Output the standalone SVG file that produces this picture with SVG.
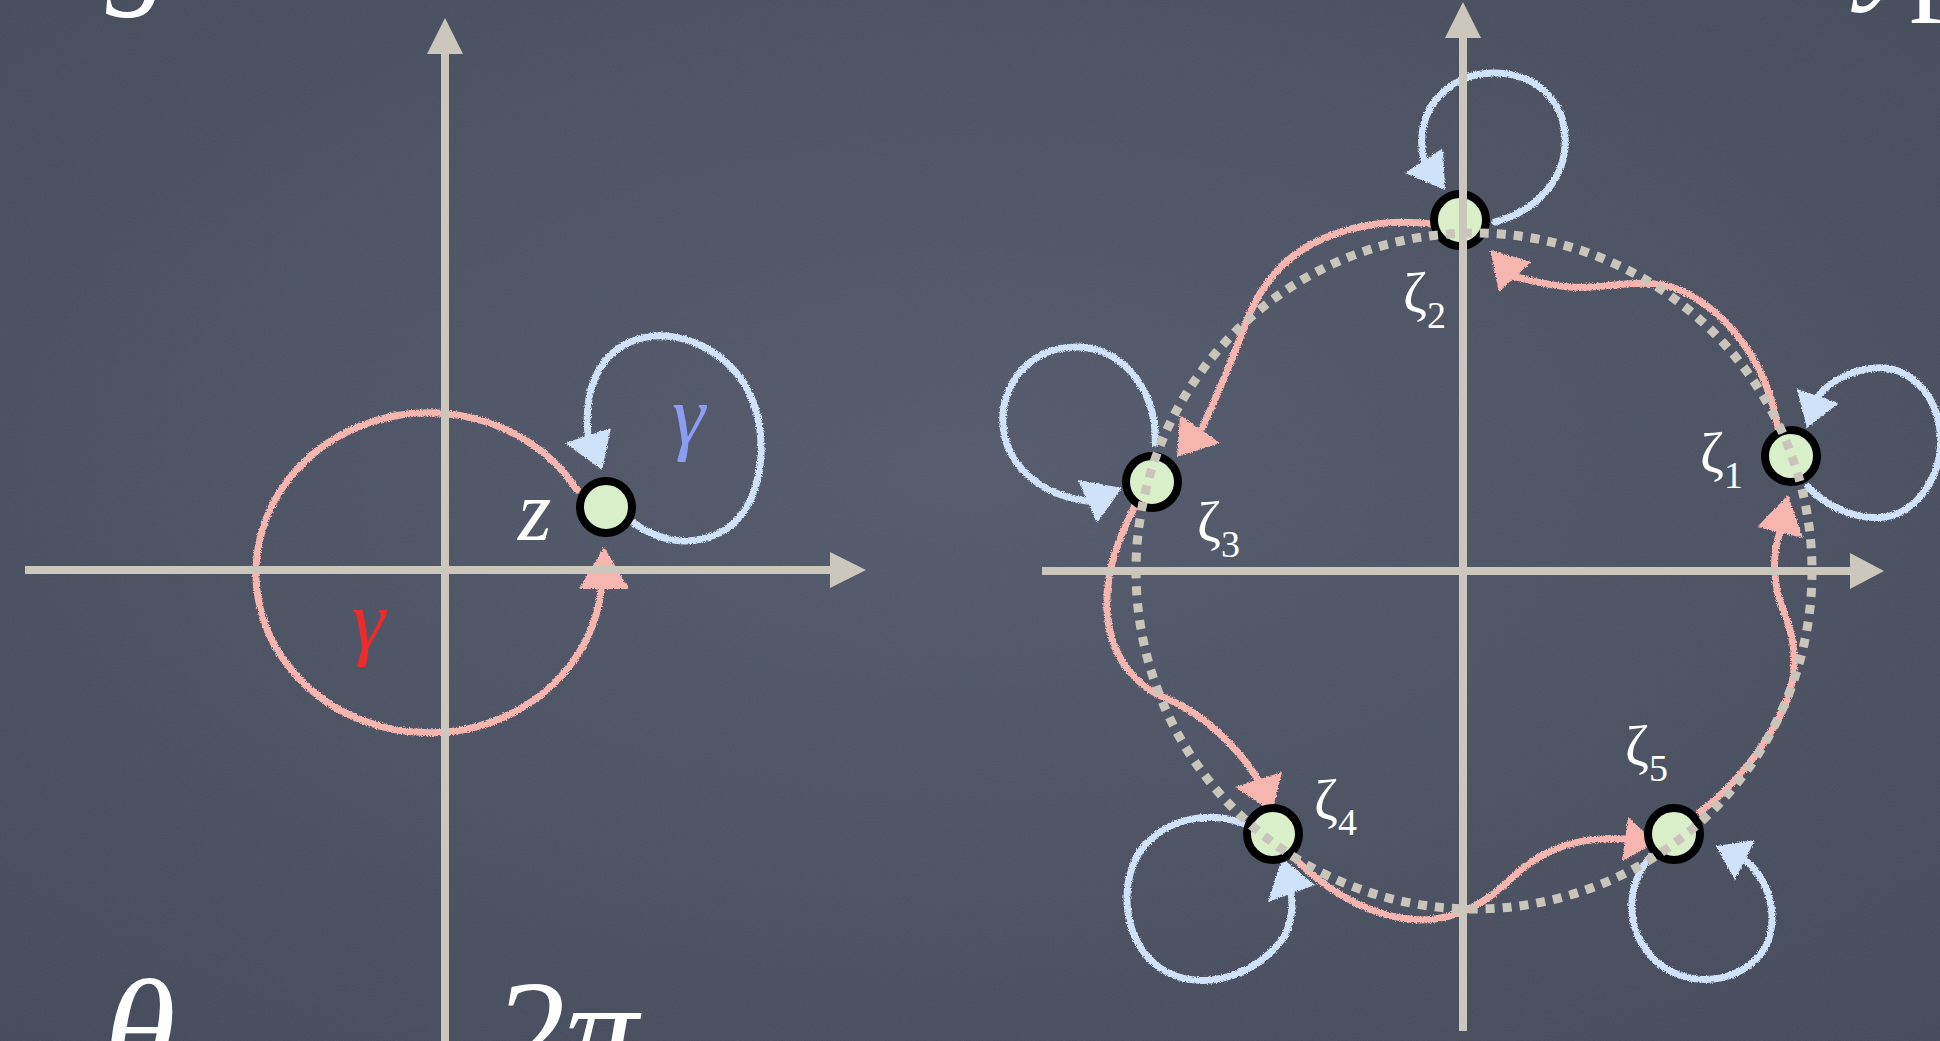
<svg xmlns="http://www.w3.org/2000/svg" width="1940" height="1041" viewBox="0 0 1940 1041">
<defs>
  <style>
    .math{font-family:"Liberation Serif","DejaVu Serif",serif;font-style:italic;fill:#ffffff}
    .lbl{font-family:"Liberation Serif","DejaVu Serif",serif;fill:#ffffff;font-size:58px}
    .sub{font-size:38px}
    .axis{stroke:#cbc7bd;stroke-width:8;fill:none}
    .axhead{fill:#cbc7bd}
    .red{stroke:#f7b5b0;stroke-width:7;fill:none;stroke-linecap:round}
    .blue{stroke:#cfe2fa;stroke-width:7;fill:none;stroke-linecap:round}
    .redhead{fill:#f7b5b0}
    .bluehead{fill:#cfe2fa}
    .dots{stroke:#c9c5bb;stroke-width:9;fill:none;stroke-dasharray:9 8}
    .node{fill:#d9efca;stroke:#000000;stroke-width:8}
  </style>
  <radialGradient id="bg" cx="50%" cy="45%" r="75%">
    <stop offset="0" stop-color="#535a6c"/>
    <stop offset="1" stop-color="#434959"/>
  </radialGradient>
  <filter id="grain" x="0" y="0" width="100%" height="100%">
    <feTurbulence type="fractalNoise" baseFrequency="0.75" numOctaves="3" seed="5"/>
    <feColorMatrix type="saturate" values="0"/>
  </filter>
  <filter id="chalk" x="-5%" y="-5%" width="110%" height="110%">
    <feTurbulence type="fractalNoise" baseFrequency="0.8" numOctaves="2" seed="3" result="n"/>
    <feDisplacementMap in="SourceGraphic" in2="n" scale="4" xChannelSelector="R" yChannelSelector="G"/>
  </filter>
</defs>

<rect width="1940" height="1041" fill="url(#bg)"/>
<rect width="1940" height="1041" filter="url(#grain)" opacity="0.07"/>

<!-- cut-off text fragments -->
<g id="fragments">
  <text class="math" x="106" y="-10" font-size="130">g</text>
  <text class="math" x="1862" y="-15" font-size="130">y<tspan dx="-10" dy="10" font-style="normal">p</tspan></text>
  <text class="math" x="104" y="1081" font-size="146">θ</text>
  <text class="math" x="492" y="1081" font-size="146">2π</text>
</g>

<!-- connectors: chalk curves and arrowheads -->
<g id="connectors" filter="url(#chalk)">
  <!-- left plot -->
  <path class="red" d="M 577 490 A 173 160 0 1 0 601 590"/>
  <polygon class="redhead" points="604,547 579,589 629,589"/>
  <path class="blue" d="M 631 521 C 655 540 690 550 725 530 C 765 505 772 430 745 385 C 720 345 670 325 630 342 C 595 358 584 395 588 435"/>
  <polygon class="bluehead" points="602,470 565,443 611,428"/>

  <!-- right plot: red path around the roots -->
  <path class="red" d="M 1778 428 C 1768 370 1735 320 1690 295 C 1650 272 1610 290 1570 287 C 1545 285 1530 280 1515 277"/>
  <polygon class="redhead" points="1490,250 1531,262 1499,292"/>
  <path class="red" d="M 1432 224 C 1400 220 1360 222 1320 240 C 1280 258 1258 290 1245 325 C 1232 360 1220 390 1202 428"/>
  <polygon class="redhead" points="1177,457 1180,415 1220,443"/>
  <path class="red" d="M 1135 506 C 1120 535 1105 570 1107 610 C 1109 650 1130 685 1170 700 C 1205 715 1240 750 1258 780"/>
  <polygon class="redhead" points="1272,812 1235,787 1282,772"/>
  <path class="red" d="M 1298 862 C 1330 892 1370 918 1420 920 C 1460 920 1490 900 1515 875 C 1545 848 1580 836 1625 839"/>
  <polygon class="redhead" points="1656,843 1622,861 1628,817"/>
  <path class="red" d="M 1700 812 C 1730 790 1765 750 1785 705 C 1800 670 1795 640 1785 615 C 1772 585 1772 555 1780 532"/>
  <polygon class="redhead" points="1788,495 1757,527 1803,538"/>

  <!-- right plot: blue self loops -->
  <path class="blue" d="M 1495 222 C 1540 210 1568 175 1565 135 C 1562 95 1530 72 1492 73 C 1455 74 1425 100 1422 135 C 1421 145 1422 152 1424 160"/>
  <polygon class="bluehead" points="1445,190 1405,173 1443,148"/>
  <path class="blue" d="M 1808 487 C 1830 510 1860 520 1885 517 C 1920 512 1945 470 1940 430 C 1935 390 1905 365 1875 368 C 1850 370 1830 382 1818 396"/>
  <polygon class="bluehead" points="1807,428 1797,389 1839,403"/>
  <path class="blue" d="M 1155 443 C 1158 400 1130 350 1080 347 C 1030 345 1000 385 1003 425 C 1006 465 1040 495 1087 501"/>
  <polygon class="bluehead" points="1122,488 1078,480 1097,523"/>
  <path class="blue" d="M 1245 824 C 1210 810 1170 818 1145 845 C 1118 875 1120 940 1160 968 C 1200 995 1260 975 1285 935 C 1292 920 1293 905 1291 893"/>
  <polygon class="bluehead" points="1282,858 1268,902 1315,885"/>
  <path class="blue" d="M 1659 850 C 1630 870 1620 920 1650 955 C 1675 985 1730 990 1760 955 C 1780 930 1775 885 1745 860"/>
  <polygon class="bluehead" points="1716,846 1755,840 1735,880"/>
</g>

<!-- nodes -->
<g id="node-z"><circle class="node" cx="606" cy="507" r="26"/></g>
<g id="node-zeta1"><circle class="node" cx="1791" cy="456" r="26"/></g>
<g id="node-zeta2"><circle class="node" cx="1460" cy="220" r="26"/></g>
<g id="node-zeta3"><circle class="node" cx="1152" cy="482" r="26"/></g>
<g id="node-zeta4"><circle class="node" cx="1273" cy="834" r="26"/></g>
<g id="node-zeta5"><circle class="node" cx="1674" cy="834" r="26"/></g>

<!-- axes -->
<g id="axes">
  <line class="axis" x1="445" y1="50" x2="445" y2="1041"/>
  <polygon class="axhead" points="445,18 427,54 463,54"/>
  <line class="axis" x1="25" y1="570" x2="835" y2="570"/>
  <polygon class="axhead" points="866,570 830,552 830,588"/>
  <line class="axis" x1="1463" y1="34" x2="1463" y2="1031"/>
  <polygon class="axhead" points="1463,2 1445,38 1481,38"/>
  <line class="axis" x1="1042" y1="571" x2="1853" y2="571"/>
  <polygon class="axhead" points="1884,571 1850,553 1850,589"/>
</g>

<!-- dotted circle through the roots -->
<g id="unit-circle">
  <circle class="dots" cx="1474" cy="571" r="338"/>
</g>

<!-- labels -->
<g id="labels">
  <text class="math" x="518" y="540" font-size="86">z</text>
  <text class="math" x="672" y="444" font-size="84" style="fill:#8c9cf2">γ</text>
  <text class="math" x="352" y="649" font-size="84" style="fill:#ee2b2b">γ</text>
  <text class="lbl" x="1700" y="472">ζ<tspan class="sub" dy="16">1</tspan></text>
  <text class="lbl" x="1403" y="312">ζ<tspan class="sub" dy="16">2</tspan></text>
  <text class="lbl" x="1197" y="541">ζ<tspan class="sub" dy="16">3</tspan></text>
  <text class="lbl" x="1314" y="819">ζ<tspan class="sub" dy="16">4</tspan></text>
  <text class="lbl" x="1625" y="765">ζ<tspan class="sub" dy="16">5</tspan></text>
</g>
</svg>
